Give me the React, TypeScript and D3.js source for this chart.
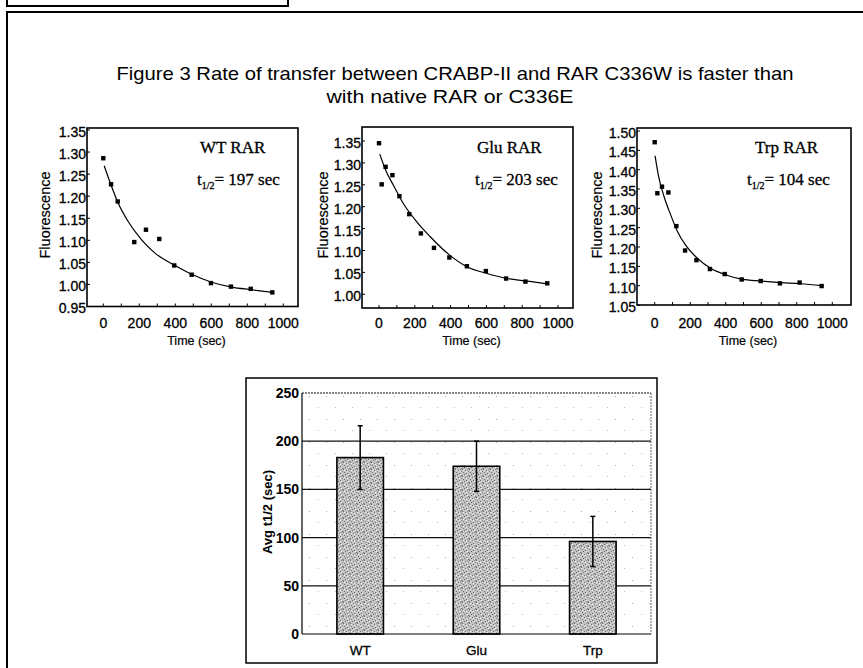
import * as d3 from "d3";
import React from "react";

// decay runs: time (sec) and fluorescence
const wtTime = [0, 43, 80, 172, 237, 311, 394, 491, 598, 709, 819, 939];
const wtFluor = [1.286, 1.227, 1.188, 1.096, 1.124, 1.103, 1.043, 1.022, 1.003, 0.995, 0.99, 0.982];
const wtFitTime = [5, 46, 83, 139, 213, 287, 394, 491, 602, 713, 824, 939];
const wtFit = [1.269, 1.222, 1.184, 1.142, 1.101, 1.071, 1.044, 1.023, 1.005, 0.994, 0.988, 0.982];

const gluTime = [0, 15, 37, 75, 114, 169, 234, 307, 393, 491, 597, 710, 818, 940];
const gluFluor = [1.345, 1.251, 1.291, 1.272, 1.224, 1.183, 1.139, 1.106, 1.084, 1.064, 1.053, 1.036, 1.029, 1.025];
const gluFitTime = [4, 41, 79, 135, 210, 285, 393, 491, 599, 715, 828, 940];
const gluFit = [1.32, 1.28, 1.25, 1.208, 1.166, 1.132, 1.09, 1.063, 1.048, 1.036, 1.03, 1.024];

const trpTime = [0, 15, 41, 77, 122, 171, 235, 311, 394, 490, 597, 705, 816, 940];
const trpFluor = [1.471, 1.339, 1.356, 1.341, 1.254, 1.191, 1.166, 1.143, 1.13, 1.116, 1.112, 1.106, 1.108, 1.099];
const trpFitTime = [2, 24, 53, 90, 128, 175, 240, 315, 394, 490, 597, 709, 822, 940];
const trpFit = [1.436, 1.378, 1.33, 1.283, 1.24, 1.204, 1.171, 1.145, 1.129, 1.117, 1.112, 1.108, 1.105, 1.1];

const timeTicks = [0, 200, 400, 600, 800, 1000];
const wtTicks = [0.95, 1.0, 1.05, 1.1, 1.15, 1.2, 1.25, 1.3, 1.35];
const gluTicks = [1.0, 1.05, 1.1, 1.15, 1.2, 1.25, 1.3, 1.35];
const trpTicks = [1.05, 1.1, 1.15, 1.2, 1.25, 1.3, 1.35, 1.4, 1.45, 1.5];

const panelNames = ["WT RAR", "Glu RAR", "Trp RAR"];
const halfLives = [197, 203, 104];

// bar chart
const barCats = ["WT", "Glu", "Trp"];
const barMeans = [183, 174, 96];
const barErrs = [33, 26, 26];
const barTicks = [0, 50, 100, 150, 200, 250];

const SANS = "'Liberation Sans', Arial, sans-serif";
const SERIF = "'Liberation Serif', 'Times New Roman', serif";

type PanelProps = {
  left: number; right: number; top: number; bottom: number;
  x0: number; x1000: number;
  yLo: [number, number]; yHi: [number, number];
  ticks: number[];
  t: number[]; f: number[]; ft: number[]; fv: number[];
  name: string; half: number; labelX: number; tX: number; ylabX: number;
};

function DecayPanel(p: PanelProps) {
  const x = d3.scaleLinear().domain([0, 1000]).range([p.x0, p.x1000]);
  const y = d3.scaleLinear().domain([p.yLo[0], p.yHi[0]]).range([p.yLo[1], p.yHi[1]]);
  const line = d3.line<number>().x((d, i) => x(p.ft[i])).y((d) => y(d)).curve(d3.curveMonotoneX);
  const minor = d3.range(0, 1001, 100);
  return (
    <g>
      <rect x={p.left} y={p.top} width={p.right - p.left} height={p.bottom - p.top}
        fill="none" stroke="#000" strokeWidth={1.6} />
      {p.ticks.map((v) => (
        <g key={v}>
          <line x1={p.left} x2={p.left + 3} y1={y(v)} y2={y(v)} stroke="#000" />
          <text x={p.left - 1} y={y(v) + 2} dy="0.35em" textAnchor="end" fontSize={14} fontFamily={SANS}
            stroke="#000" strokeWidth={0.3}>
            {v.toFixed(2)}
          </text>
        </g>
      ))}
      {minor.map((v) => (
        <line key={v} x1={x(v)} x2={x(v)} y1={p.bottom} y2={p.bottom - 3} stroke="#000" />
      ))}
      {timeTicks.map((v) => (
        <text key={v} x={x(v)} y={328} textAnchor="middle" fontSize={14} fontFamily={SANS}
          stroke="#000" strokeWidth={0.3}>{v}</text>
      ))}
      <text x={(p.left + p.right) / 2 + 4} y={345} textAnchor="middle" fontSize={12.5} fontFamily={SANS}
        stroke="#000" strokeWidth={0.2}>Time (sec)</text>
      <text transform={`translate(${p.ylabX},215) rotate(-90)`} textAnchor="middle" dy="0.35em"
        fontSize={14.5} fontFamily={SANS} stroke="#000" strokeWidth={0.2}>Fluorescence</text>
      <path d={line(p.fv) || ""} fill="none" stroke="#000" strokeWidth={1.2} />
      {p.t.map((tv, i) => (
        <rect key={i} x={x(tv) - 2.2} y={y(p.f[i]) - 2.2} width={4.4} height={4.4} fill="#000" />
      ))}
      <text x={p.labelX} y={153} fontSize={17} fontFamily={SERIF} stroke="#000" strokeWidth={0.3}>{p.name}</text>
      <text x={p.tX} y={185} fontSize={17} fontFamily={SERIF} stroke="#000" strokeWidth={0.3}>
        t<tspan fontSize={10} dy={4}>1/2</tspan><tspan dy={-4}>= {p.half} sec</tspan>
      </text>
    </g>
  );
}

function BarChart() {
  const left = 302, right = 651, top = 393, bottom = 634;
  const x = d3.scaleBand<string>().domain(barCats).range([left, right]).paddingInner(0.6).paddingOuter(0.3);
  const y = d3.scaleLinear().domain([0, 250]).range([bottom, top]);
  return (
    <g>
      <defs>
        <pattern id="bg" width="17" height="23" patternUnits="userSpaceOnUse">
          <rect x="3" y="5" width="1" height="1" fill="#aaa" />
          <rect x="12" y="16" width="1" height="1" fill="#bbb" />
        </pattern>
        <pattern id="barfill" width="7" height="7" patternUnits="userSpaceOnUse">
          <rect width="7" height="7" fill="#c4c4c4" />
          <rect x="0" y="0" width="1" height="1" fill="#666" />
          <rect x="3" y="1" width="1" height="1" fill="#777" />
          <rect x="5" y="0" width="1" height="1" fill="#888" />
          <rect x="1" y="3" width="1" height="1" fill="#777" />
          <rect x="4" y="4" width="1" height="1" fill="#666" />
          <rect x="6" y="2" width="1" height="1" fill="#888" />
          <rect x="2" y="5" width="1" height="1" fill="#666" />
          <rect x="6" y="6" width="1" height="1" fill="#777" />
          <rect x="0" y="6" width="1" height="1" fill="#999" />
          <rect x="4" y="2" width="1" height="1" fill="#eee" />
          <rect x="1" y="1" width="1" height="1" fill="#eee" />
          <rect x="5" y="5" width="1" height="1" fill="#eee" />
        </pattern>
      </defs>
      <rect x={246} y={378} width={411} height={285} fill="#fff" stroke="#000" strokeWidth={1.5} />
      <rect x={left} y={top} width={right - left} height={bottom - top} fill="url(#bg)" />
      {barTicks.slice(1).map((v) => (
        <line key={v} x1={left} x2={right} y1={y(v)} y2={y(v)} stroke="#111"
          strokeWidth={v === 250 ? 1 : 1.2} strokeDasharray={v === 250 ? "2 1" : undefined} />
      ))}
      <line x1={right} x2={right} y1={top} y2={bottom} stroke="#666" strokeDasharray="2 1" />
      {barCats.map((c, i) => (
        <g key={c}>
          <rect x={x(c)} y={y(barMeans[i])} width={x.bandwidth()} height={bottom - y(barMeans[i])}
            fill="url(#barfill)" stroke="#000" strokeWidth={1.6} />
          <line x1={x(c)! + x.bandwidth() / 2} x2={x(c)! + x.bandwidth() / 2}
            y1={y(barMeans[i] + barErrs[i])} y2={y(barMeans[i] - barErrs[i])} stroke="#000" strokeWidth={1.5} />
          <line x1={x(c)! + x.bandwidth() / 2 - 2.5} x2={x(c)! + x.bandwidth() / 2 + 2.5}
            y1={y(barMeans[i] + barErrs[i])} y2={y(barMeans[i] + barErrs[i])} stroke="#000" strokeWidth={1.5} />
          <line x1={x(c)! + x.bandwidth() / 2 - 2.5} x2={x(c)! + x.bandwidth() / 2 + 2.5}
            y1={y(barMeans[i] - barErrs[i])} y2={y(barMeans[i] - barErrs[i])} stroke="#000" strokeWidth={1.5} />
          <text x={x(c)! + x.bandwidth() / 2} y={655} textAnchor="middle" fontSize={13.5} fontFamily={SANS}
            stroke="#000" strokeWidth={0.3}>{c}</text>
        </g>
      ))}
      <line x1={left} x2={left} y1={top} y2={bottom} stroke="#000" strokeWidth={1.2} />
      <line x1={left} x2={right} y1={bottom} y2={bottom} stroke="#000" strokeWidth={1.2} />
      {barTicks.map((v) => (
        <text key={v} x={left - 3} y={y(v)} dy="0.35em" textAnchor="end" fontSize={14} fontWeight="bold" fontFamily={SANS}>{v}</text>
      ))}
      <text transform={`translate(267,512) rotate(-90)`} textAnchor="middle" dy="0.35em"
        fontSize={13} fontWeight="bold" fontFamily={SANS}>Avg t1/2 (sec)</text>
    </g>
  );
}

export default function App() {
  return (
    <svg width={863} height={668} style={{ position: "absolute", left: 0, top: 0, background: "#fff" }}>
      {/* frames from the scanned page */}
      <path d="M7,0 V6 H288 V0" fill="none" stroke="#000" strokeWidth={2} />
      <path d="M7,668 V12 H863" fill="none" stroke="#000" strokeWidth={2} />
      <text x={455} y={80} textAnchor="middle" fontSize={19} fontFamily={SANS} textLength={677} lengthAdjust="spacingAndGlyphs">
        Figure 3 Rate of transfer between CRABP-II and RAR C336W is faster than
      </text>
      <text x={450} y={103} textAnchor="middle" fontSize={19} fontFamily={SANS} textLength={247} lengthAdjust="spacingAndGlyphs">
        with native RAR or C336E
      </text>
      <DecayPanel left={87} right={298} top={128} bottom={306.5} x0={103.3} x1000={283.3}
        yLo={[0.95, 306.5]} yHi={[1.35, 130]} ticks={wtTicks}
        t={wtTime} f={wtFluor} ft={wtFitTime} fv={wtFit}
        name={panelNames[0]} half={halfLives[0]} labelX={200} tX={197} ylabX={45} />
      <DecayPanel left={362} right={573} top={127} bottom={308} x0={379} x1000={558}
        yLo={[1.0, 294.3]} yHi={[1.35, 141]} ticks={gluTicks}
        t={gluTime} f={gluFluor} ft={gluFitTime} fv={gluFit}
        name={panelNames[1]} half={halfLives[1]} labelX={477} tX={475} ylabX={323} />
      <DecayPanel left={637} right={851} top={128} bottom={305} x0={654.7} x1000={832.3}
        yLo={[1.05, 305]} yHi={[1.5, 131]} ticks={trpTicks}
        t={trpTime} f={trpFluor} ft={trpFitTime} fv={trpFit}
        name={panelNames[2]} half={halfLives[2]} labelX={755} tX={747} ylabX={597} />
      <BarChart />
    </svg>
  );
}
